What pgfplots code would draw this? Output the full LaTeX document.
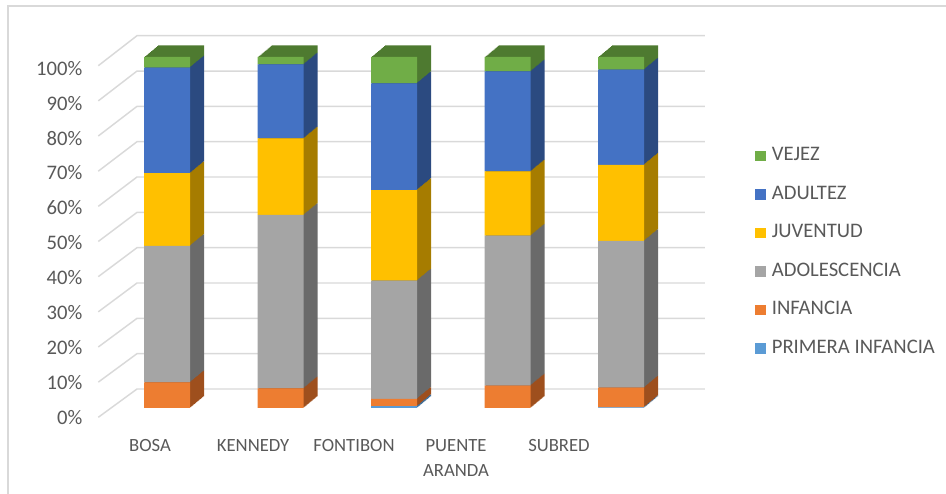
\documentclass[border=0pt]{standalone}
\usepackage{pgfplots}
\pgfplotsset{compat=1.18}
\usepackage{pgfplotstable}
\usepackage{fontspec}
\setmainfont{Carlito}

\definecolor{cPI}{HTML}{5B9BD5}\definecolor{sPI}{HTML}{41719C}
\definecolor{cINF}{HTML}{ED7D31}\definecolor{sINF}{HTML}{9E4F1D}
\definecolor{cADO}{HTML}{A5A5A5}\definecolor{sADO}{HTML}{6A6A6A}
\definecolor{cJUV}{HTML}{FFC000}\definecolor{sJUV}{HTML}{A67C00}
\definecolor{cADU}{HTML}{4472C4}\definecolor{sADU}{HTML}{2B4A80}
\definecolor{cVEJ}{HTML}{70AD47}\definecolor{sVEJ}{HTML}{4E7A30}
\definecolor{gridc}{HTML}{D9D9D9}
\definecolor{txt}{HTML}{595959}

\pgfplotstableread{
x PI INF ADO JUV ADU VEJ
0 0.0 7.3 38.9 20.7 30.1 3.0
1 0.0 5.6 49.4 21.8 21.1 2.1
2 0.5 2.1 33.7 25.8 30.4 7.5
3 0.0 6.4 42.7 18.3 28.5 4.1
4 0.2 5.6 41.8 21.7 27.1 3.6
}\datatable

\pgfplotsset{
  base/.style={x=85.125pt, y=2.6325pt, xmin=-0.7048, xmax=5.0485, ymin=-7.12, ymax=107.69, clip=false},
  gl/.style={gridc, line width=1.1pt, forget plot},
  sw/.style={fill=#1, draw=none, forget plot},
  lg/.style={legend image code/.code={\fill[##1,draw=none] (0pt,-3.95pt) rectangle (7.9pt,3.95pt);}},
}

\begin{document}
\begin{tikzpicture}
% axis 1: back wall, side grid lines, tick labels, chart border
\begin{axis}[
  base,
  axis line style={draw=none},
  major tick length=0pt,
  ytick={-2.65,7.29,17.24,27.18,37.12,47.07,57.01,66.95,76.89,86.84,96.78},
  yticklabels={0\%,10\%,20\%,30\%,40\%,50\%,60\%,70\%,80\%,90\%,100\%},
  xtick={-0.1498,0.7577,1.6476,2.5463,3.4537},
  xticklabels={BOSA,KENNEDY,FONTIBON,PUENTE\\ARANDA,SUBRED},
  xticklabel style={align=center, font=\fontsize{14pt}{18.5pt}\selectfont, text=txt, anchor=north, yshift=-1.5pt},
  yticklabel style={font=\fontsize{15.5pt}{18pt}\selectfont, text=txt},
]
\addplot[gl] coordinates {(-0.6053,-2.65) (-0.2643,5.41) (4.740,5.41)};
\addplot[gl] coordinates {(-0.6053,7.37) (-0.2643,15.48) (4.740,15.48)};
\addplot[gl] coordinates {(-0.6053,17.38) (-0.2643,25.54) (4.740,25.54)};
\addplot[gl] coordinates {(-0.6053,27.40) (-0.2643,35.61) (4.740,35.61)};
\addplot[gl] coordinates {(-0.6053,37.42) (-0.2643,45.67) (4.740,45.67)};
\addplot[gl] coordinates {(-0.6053,47.44) (-0.2643,55.74) (4.740,55.74)};
\addplot[gl] coordinates {(-0.6053,57.45) (-0.2643,65.81) (4.740,65.81)};
\addplot[gl] coordinates {(-0.6053,67.47) (-0.2643,75.87) (4.740,75.87)};
\addplot[gl] coordinates {(-0.6053,77.49) (-0.2643,85.94) (4.740,85.94)};
\addplot[gl] coordinates {(-0.6053,87.50) (-0.2643,96.00) (4.740,96.00)};
\addplot[gl] coordinates {(-0.6053,97.52) (-0.2643,106.07) (4.740,106.07)};
\draw[gridc, line width=1.5pt] (axis cs:-1.4053,-30) -- (axis cs:-1.4053,114.62) -- (axis cs:7.2,114.62);
\coordinate (bbsw) at (axis cs:-1.4714,-24.22);
\coordinate (bbne) at (axis cs:6.8634,116.24);
\end{axis}

% depth faces: the stacked bars swept backwards, one shifted layer per step
\pgfplotsinvokeforeach{14,13,...,1}{
\begin{axis}[base, hide axis, ybar stacked, bar width=34.5pt, xshift=#1*0.75pt, yshift=#1*0.62pt]
  \addplot[sw=sPI] table[x=x, y=PI] {\datatable};
  \addplot[sw=sINF] table[x=x, y=INF] {\datatable};
  \addplot[sw=sADO] table[x=x, y=ADO] {\datatable};
  \addplot[sw=sJUV] table[x=x, y=JUV] {\datatable};
  \addplot[sw=sADU] table[x=x, y=ADU] {\datatable};
  \addplot[sw=sVEJ] table[x=x, y=VEJ] {\datatable};
\end{axis}
}

% front faces
\begin{axis}[
  base,
  hide axis,
  ybar stacked, bar width=34.5pt,
  reverse legend,
  legend cell align=left,
  legend style={at={(axis description cs:1.023,0.4486)}, anchor=west, draw=none, fill=none,
    inner sep=0pt, row sep=15.9pt, column sep=4.5pt,
    nodes={inner sep=0pt, text height=10pt, text depth=3pt},
    font=\fontsize{15.5pt}{18pt}\selectfont, text=txt},
]
\addplot[fill=cPI, draw=none, lg] table[x=x, y=PI] {\datatable};
\addplot[fill=cINF, draw=none, lg] table[x=x, y=INF] {\datatable};
\addplot[fill=cADO, draw=none, lg] table[x=x, y=ADO] {\datatable};
\addplot[fill=cJUV, draw=none, lg] table[x=x, y=JUV] {\datatable};
\addplot[fill=cADU, draw=none, lg] table[x=x, y=ADU] {\datatable};
\addplot[fill=cVEJ, draw=none, lg] table[x=x, y=VEJ] {\datatable};
\legend{PRIMERA INFANCIA,INFANCIA,ADOLESCENCIA,JUVENTUD,ADULTEZ,VEJEZ}
\end{axis}
\pgfresetboundingbox
\useasboundingbox (bbsw) rectangle (bbne);
\end{tikzpicture}
\end{document}
